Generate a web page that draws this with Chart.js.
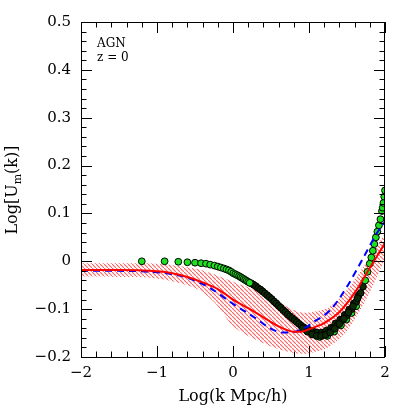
<!DOCTYPE html>
<html>
<head>
<meta charset="utf-8">
<script src="https://cdn.jsdelivr.net/npm/chart.js@4/dist/chart.umd.min.js"></script>
<style>
  body { margin: 0; background: #fff; }
  canvas { display: block; }
</style>
</head>
<body>
<canvas id="myChart" width="407" height="407"></canvas>
<script>
// ---- data ----
const xTicks = [-2, -1, 0, 1, 2];
const yTicks = [-0.2, -0.1, 0, 0.1, 0.2, 0.3, 0.4, 0.5];

// shaded band (red hatch)
const bandK = [-2.0, -1.5, -1.0, -0.5, -0.25, 0.0, 0.25, 0.5, 0.75, 0.9, 1.0, 1.25, 1.5, 1.75, 2.0];
const bandUpper = [-0.004, -0.004, -0.005, -0.015, -0.027, -0.043, -0.058, -0.078, -0.098, -0.107, -0.107, -0.097, -0.060, -0.003, 0.058];
const bandLower = [-0.032, -0.033, -0.036, -0.056, -0.085, -0.135, -0.160, -0.178, -0.190, -0.193, -0.192, -0.180, -0.145, -0.080, 0.005];

// red solid model
const redK = [-2.0, -1.5, -1.0, -0.8, -0.6, -0.4, -0.2, 0.0, 0.2, 0.4, 0.5, 0.6, 0.7, 0.8, 0.9, 1.0, 1.1, 1.2, 1.4, 1.6, 1.8, 1.9, 2.0];
const redU = [-0.018, -0.018, -0.021, -0.025, -0.033, -0.044, -0.058, -0.080, -0.098, -0.117, -0.127, -0.136, -0.143, -0.147, -0.147, -0.142, -0.136, -0.129, -0.106, -0.066, -0.014, 0.012, 0.038];

// blue dashed model
const blueK = [-2.0, -1.5, -1.0, -0.8, -0.57, -0.3, 0.0, 0.29, 0.49, 0.66, 0.82, 0.97, 1.05, 1.28, 1.5, 1.71, 1.89, 2.0];
const blueU = [-0.020, -0.020, -0.023, -0.027, -0.036, -0.056, -0.089, -0.118, -0.140, -0.149, -0.147, -0.137, -0.128, -0.102, -0.053, 0.006, 0.058, 0.083];

// simulation points, low k (green)
const simLowK = [-1.20, -0.90, -0.72, -0.60, -0.50, -0.42, -0.355, -0.30, -0.245, -0.20, -0.16, -0.12, -0.086, -0.054, -0.024, 0.004, 0.03, 0.055, 0.08, 0.10, 0.12, 0.14, 0.16, 0.18, 0.20, 0.22];
const simLowU = [0.000, 0.000, -0.001, -0.002, -0.003, -0.004, -0.005, -0.007, -0.009, -0.011, -0.013, -0.015, -0.017, -0.019, -0.022, -0.025, -0.027, -0.029, -0.031, -0.033, -0.035, -0.037, -0.039, -0.041, -0.043, -0.045];

// green points hidden under the dense band (peek through as specks)
const simSpeckK = [1.14, 1.24, 1.33, 1.42, 1.49, 1.56, 1.62];
const simSpeckU = [-0.158, -0.156, -0.147, -0.134, -0.122, -0.108, -0.094];

// simulation points, dense middle (overlapping, dark)
const simMidK = [0.24, 0.27, 0.30, 0.33, 0.36, 0.39, 0.42, 0.45, 0.48, 0.51, 0.54, 0.57, 0.60, 0.63, 0.66, 0.69, 0.72, 0.75, 0.78, 0.81, 0.84, 0.87, 0.90, 0.93, 0.96, 0.99, 1.02, 1.05, 1.08, 1.11, 1.14, 1.17, 1.20, 1.23, 1.26, 1.29, 1.32, 1.35, 1.38, 1.41, 1.44, 1.47, 1.50, 1.53, 1.56, 1.59, 1.62, 1.65, 1.68, 1.71,
  0.92, 0.98, 1.04, 1.10, 1.16, 1.22, 1.28, 1.34, 1.40, 1.46, 1.52, 1.58, 1.64];
const simMidU = [-0.046, -0.049, -0.052, -0.056, -0.059, -0.063, -0.067, -0.071, -0.075, -0.079, -0.084, -0.088, -0.093, -0.097, -0.102, -0.106, -0.111, -0.115, -0.119, -0.123, -0.127, -0.131, -0.135, -0.138, -0.143, -0.143, -0.148, -0.146, -0.152, -0.149, -0.154, -0.149, -0.152, -0.145, -0.148, -0.139, -0.140, -0.130, -0.132, -0.122, -0.123, -0.112, -0.113, -0.101, -0.100, -0.088, -0.085, -0.072, -0.066, -0.053,
  -0.140, -0.147, -0.153, -0.156, -0.156, -0.154, -0.149, -0.141, -0.131, -0.120, -0.107, -0.094, -0.077];

// simulation points, high k (green again)
const simHighK = [1.74, 1.77, 1.80, 1.82, 1.84, 1.86, 1.88, 1.90, 1.92, 1.94, 1.96, 1.97, 1.98, 1.99, 2.00];
const simHighU = [-0.040, -0.022, -0.005, 0.008, 0.022, 0.036, 0.050, 0.062, 0.075, 0.088, 0.105, 0.112, 0.122, 0.135, 0.148];

const pts = (xs, ys) => xs.map((v, i) => ({ x: v, y: ys[i] }));

// hatch pattern for the band
const hatchCanvas = document.createElement("canvas");
hatchCanvas.width = 4;
hatchCanvas.height = 4;
const hctx = hatchCanvas.getContext("2d");
hctx.strokeStyle = "rgba(255, 70, 70, 0.85)";
hctx.lineWidth = 1.1;
hctx.beginPath();
hctx.moveTo(-1, -1);
hctx.lineTo(5, 5);
hctx.stroke();
const hatch = hctx.createPattern(hatchCanvas, "repeat");

const minus = (s) => String(s).replace("-", "\u2212");

// frame, inward ticks, y-axis title with subscript, label
const frameTicks = {
  id: "frameTicks",
  afterDatasetsDraw(chart) {
    const { ctx, chartArea: a, scales: { x, y } } = chart;
    ctx.save();
    ctx.strokeStyle = "#000";
    ctx.lineWidth = 1;
    ctx.strokeRect(a.left + 0.5, a.top + 0.5, a.right - a.left - 1, a.bottom - a.top);
    ctx.beginPath();
    for (let i = 0; i <= 20; i++) {
      const v = -2 + i * 0.2;
      const len = i % 5 === 0 ? 11 : 5.5;
      const px = Math.round(x.getPixelForValue(v)) + 0.5;
      ctx.moveTo(px, a.bottom); ctx.lineTo(px, a.bottom - len);
      ctx.moveTo(px, a.top); ctx.lineTo(px, a.top + len);
    }
    for (let i = 0; i <= 35; i++) {
      const v = -0.2 + i * 0.02;
      const len = i % 5 === 0 ? 11 : 5.5;
      const py = Math.round(y.getPixelForValue(v)) + 0.5;
      ctx.moveTo(a.left, py); ctx.lineTo(a.left + len, py);
      ctx.moveTo(a.right, py); ctx.lineTo(a.right - len, py);
    }
    ctx.stroke();

    // label in corner
    ctx.fillStyle = "#000";
    ctx.font = "12px 'DejaVu Serif'";
    ctx.textAlign = "left";
    ctx.textBaseline = "alphabetic";
    ctx.fillText("AGN", a.left + 16, a.top + 25);
    ctx.fillText("z = 0", a.left + 16, a.top + 39);

    // y title with subscript
    ctx.translate(13, 190);
    ctx.rotate(-Math.PI / 2);
    ctx.textBaseline = "middle";
    const big = "16px 'DejaVu Serif'", small = "11px 'DejaVu Serif'";
    const parts = [["Log[U", big, 0], ["m", small, 5], ["(k)]", big, 0]];
    let w = 0;
    parts.forEach(p => { ctx.font = p[1]; w += ctx.measureText(p[0]).width; });
    let cx = -w / 2;
    parts.forEach(p => {
      ctx.font = p[1];
      ctx.fillText(p[0], cx, p[2]);
      cx += ctx.measureText(p[0]).width;
    });
    ctx.restore();
  }
};

const green = "#1fe01f";

const ctx = document.getElementById("myChart").getContext("2d");
const myChart = new Chart(ctx, {
  type: "scatter",
  data: {
    datasets: [
      {
        label: "band lower",
        data: pts(bandK, bandLower),
        showLine: true,
        borderWidth: 0,
        pointRadius: 0,
        tension: 0.3,
        fill: false,
        order: 6,
      },
      {
        label: "band upper",
        data: pts(bandK, bandUpper),
        showLine: true,
        borderWidth: 0,
        pointRadius: 0,
        tension: 0.3,
        fill: "-1",
        backgroundColor: hatch,
        order: 5,
      },
      {
        label: "sim specks",
        data: pts(simSpeckK, simSpeckU),
        pointRadius: 3.4,
        pointBackgroundColor: green,
        pointBorderColor: "#000",
        pointBorderWidth: 1,
        order: 4,
      },
      {
        label: "sim mid",
        data: pts(simMidK, simMidU),
        pointRadius: 3.4,
        pointBackgroundColor: "#0d2a06",
        pointBorderColor: "#000",
        pointBorderWidth: 1,
        order: 3,
      },
      {
        label: "sim low",
        data: pts(simLowK, simLowU),
        pointRadius: 3.4,
        pointBackgroundColor: green,
        pointBorderColor: "#000",
        pointBorderWidth: 1,
        order: 2,
      },
      {
        label: "sim high",
        data: pts(simHighK, simHighU),
        pointRadius: 3.4,
        pointBackgroundColor: green,
        pointBorderColor: "#000",
        pointBorderWidth: 1,
        order: 2,
      },
      {
        label: "blue",
        data: pts(blueK, blueU),
        showLine: true,
        borderColor: "#0000ff",
        borderWidth: 2,
        borderDash: [7, 5],
        pointRadius: 0,
        cubicInterpolationMode: "monotone",
        order: 1,
      },
      {
        label: "red",
        data: pts(redK, redU),
        showLine: true,
        borderColor: "#ff0000",
        borderWidth: 2,
        pointRadius: 0,
        cubicInterpolationMode: "monotone",
        order: 0,
      },
    ],
  },
  plugins: [frameTicks],
  options: {
    responsive: false,
    animation: false,
    devicePixelRatio: 1,
    layout: { padding: { left: 0, top: 22, right: 22, bottom: 0 } },
    plugins: {
      legend: { display: false },
      tooltip: { enabled: false },
    },
    scales: {
      x: {
        type: "linear",
        min: -2,
        max: 2,
        afterFit: (s) => { s.height = 50; },
        afterBuildTicks: (s) => { s.ticks = xTicks.map(v => ({ value: v })); },
        grid: { display: false, drawTicks: false },
        border: { display: false },
        ticks: {
          color: "#000",
          padding: 7,
          maxRotation: 0,
          font: { family: "DejaVu Serif", size: 15 },
          callback: (v) => minus(v),
        },
        title: {
          display: true,
          text: "Log(k Mpc/h)",
          color: "#000",
          padding: { top: 0, bottom: 1 },
          font: { family: "DejaVu Serif", size: 16 },
        },
      },
      y: {
        type: "linear",
        min: -0.2,
        max: 0.5,
        afterFit: (s) => { s.width = 81; },
        afterBuildTicks: (s) => { s.ticks = yTicks.map(v => ({ value: v })); },
        grid: { display: false, drawTicks: false },
        border: { display: false },
        ticks: {
          color: "#000",
          padding: 10,
          font: { family: "DejaVu Serif", size: 15 },
          callback: (v) => (Math.abs(v) < 1e-9 ? "0" : minus(v.toFixed(1))),
        },
      },
    },
  },
});
</script>
</body>
</html>
